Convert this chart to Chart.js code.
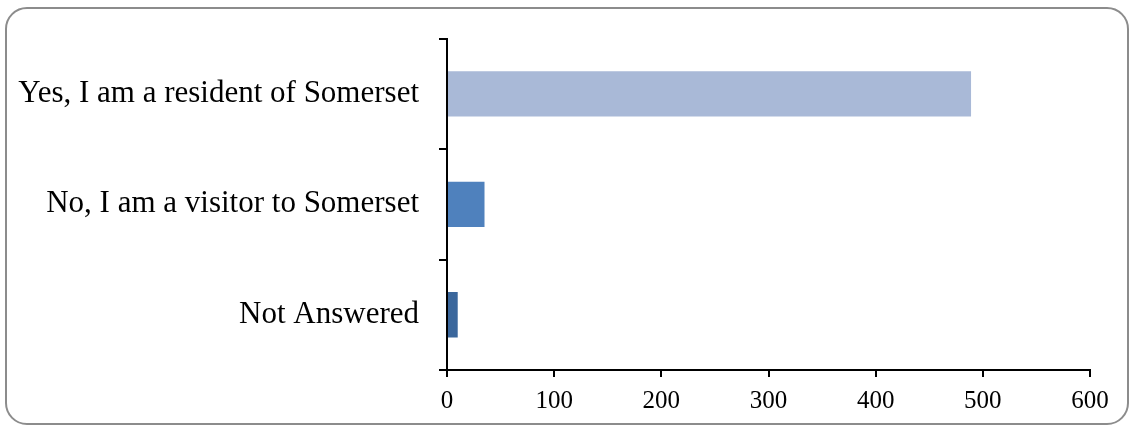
<!DOCTYPE html>
<html>
<head>
<meta charset="utf-8">
<script src="https://cdn.jsdelivr.net/npm/chart.js@4/dist/chart.umd.min.js"></script>
<style>
  html, body { margin: 0; padding: 0; background: #fff; }
  #wrap { position: relative; width: 1133px; height: 427px; overflow: hidden; }
  #frame { position: absolute; left: 5px; top: 7px; width: 1120px; height: 414px;
           border: 2px solid #8c8c8c; border-radius: 22px; box-sizing: content-box; }
  canvas { position: absolute; left: 0; top: 0; }
</style>
</head>
<body>
<div id="wrap">
  <div id="frame"></div>
  <canvas id="c" width="1133" height="427"></canvas>
</div>
<script>
const categories = ["Yes, I am a resident of Somerset", "No, I am a visitor to Somerset", "Not Answered"];
const responses = [489, 35, 10];
const barColors = ["#A9B9D7", "#4F81BD", "#3B679C"];
const xTicks = [0, 100, 200, 300, 400, 500, 600];

const FONT = "'Liberation Serif', 'DejaVu Serif', serif";

new Chart(document.getElementById('c'), {
  type: 'bar',
  data: {
    labels: categories,
    datasets: [{
      data: responses,
      backgroundColor: barColors,
      borderWidth: 0,
      barPercentage: 0.41,
      categoryPercentage: 1.0
    }]
  },
  options: {
    indexAxis: 'y',
    responsive: false,
    animation: false,
    devicePixelRatio: 1,
    layout: { padding: { left: 0, top: 37, right: 43, bottom: 0 } },
    plugins: { legend: { display: false }, tooltip: { enabled: false } },
    scales: {
      x: {
        min: 0, max: 600,
        afterBuildTicks: (s) => { s.ticks = xTicks.map(v => ({ value: v })); },
        afterFit: (s) => { s.height = 57; },
        grid: { drawOnChartArea: false, drawTicks: true, tickLength: 7, tickColor: '#000', lineWidth: 2 },
        border: { display: true, color: '#000', width: 2 },
        ticks: { color: '#000', font: { family: FONT, size: 25 }, padding: 9 }
      },
      y: {
        afterFit: (s) => { s.width = 447; },
        grid: { drawOnChartArea: false, drawTicks: true, tickLength: 8, tickColor: '#000', lineWidth: 2, offset: true },
        border: { display: true, color: '#000', width: 2 },
        ticks: { color: '#000', font: { family: FONT, size: 31 }, padding: 20 }
      }
    }
  }
});
</script>
</body>
</html>
